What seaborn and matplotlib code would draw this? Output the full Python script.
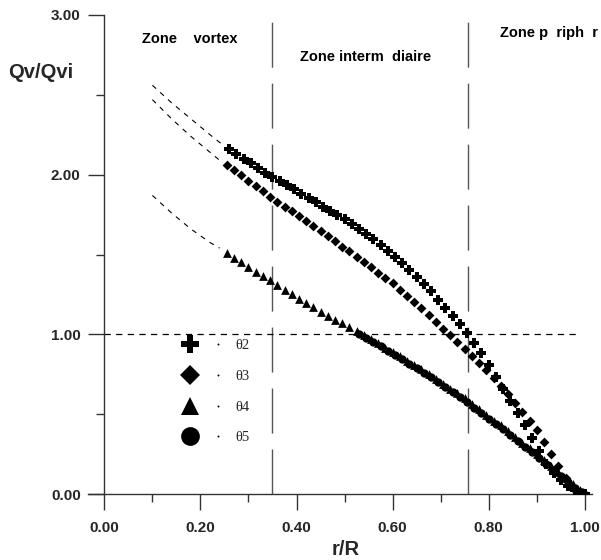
import matplotlib
matplotlib.use("Agg")
import matplotlib.pyplot as plt
from matplotlib.lines import Line2D
from matplotlib.legend_handler import HandlerTuple
from matplotlib.ticker import FixedLocator, FormatStrFormatter
import seaborn as sns
import pandas as pd

# ---------------- data ----------------
x_t2 = [0.26, 0.275, 0.29, 0.305, 0.32, 0.335, 0.35, 0.365, 0.38, 0.395, 0.41, 0.425,
        0.44, 0.455, 0.47, 0.485, 0.50, 0.515, 0.53, 0.545, 0.56, 0.575, 0.59, 0.605,
        0.62, 0.635, 0.65, 0.665, 0.68, 0.695, 0.71, 0.725, 0.74, 0.755, 0.77, 0.785,
        0.80, 0.815, 0.83, 0.845, 0.86, 0.875, 0.89, 0.905, 0.92, 0.935, 0.95, 0.965,
        0.98, 1.00]
y_t2 = [2.16, 2.13, 2.10, 2.07, 2.04, 2.01, 1.985, 1.96, 1.935, 1.91, 1.88, 1.855,
        1.83, 1.80, 1.775, 1.745, 1.72, 1.69, 1.66, 1.63, 1.60, 1.56, 1.525, 1.485,
        1.445, 1.40, 1.36, 1.315, 1.27, 1.215, 1.165, 1.115, 1.065, 1.01, 0.945, 0.88,
        0.81, 0.735, 0.66, 0.585, 0.51, 0.43, 0.35, 0.27, 0.19, 0.13, 0.085, 0.05,
        0.025, 0.0]

x_t3 = [0.255, 0.27, 0.285, 0.30, 0.315, 0.33, 0.345, 0.36, 0.375, 0.39, 0.405, 0.42,
        0.435, 0.45, 0.465, 0.48, 0.495, 0.51, 0.525, 0.54, 0.555, 0.57, 0.585, 0.60,
        0.615, 0.63, 0.645, 0.66, 0.675, 0.69, 0.705, 0.72, 0.735, 0.75, 0.765, 0.78,
        0.795, 0.81, 0.825, 0.84, 0.855, 0.87, 0.885, 0.90, 0.915, 0.93, 0.945, 0.96,
        0.975, 0.99, 1.00]
y_t3 = [2.06, 2.03, 1.995, 1.96, 1.93, 1.895, 1.86, 1.83, 1.80, 1.77, 1.74, 1.71,
        1.68, 1.65, 1.615, 1.585, 1.55, 1.52, 1.485, 1.45, 1.42, 1.385, 1.355, 1.32,
        1.28, 1.24, 1.205, 1.165, 1.12, 1.08, 1.035, 0.995, 0.95, 0.91, 0.865, 0.82,
        0.775, 0.725, 0.675, 0.625, 0.57, 0.515, 0.46, 0.40, 0.325, 0.25, 0.175, 0.10,
        0.04, 0.01, 0.0]

x_t4 = [0.255, 0.27, 0.285, 0.30, 0.315, 0.33, 0.345, 0.36, 0.375, 0.39, 0.405, 0.42,
        0.435, 0.45, 0.465, 0.48, 0.495, 0.51, 0.525, 0.54, 0.555, 0.57, 0.585, 0.60,
        0.615, 0.63, 0.645, 0.66, 0.675, 0.69, 0.705, 0.72, 0.735, 0.75, 0.765, 0.78,
        0.795, 0.81, 0.825, 0.84, 0.855, 0.87, 0.885, 0.90, 0.915, 0.93, 0.945, 0.96,
        0.975, 0.99, 1.00]
y_t4 = [1.51, 1.48, 1.45, 1.42, 1.39, 1.365, 1.34, 1.31, 1.28, 1.25, 1.22, 1.195,
        1.17, 1.14, 1.115, 1.09, 1.07, 1.045, 1.02, 0.995, 0.97, 0.945, 0.915, 0.89,
        0.865, 0.835, 0.81, 0.78, 0.75, 0.72, 0.69, 0.66, 0.63, 0.60, 0.565, 0.53,
        0.495, 0.46, 0.43, 0.395, 0.36, 0.32, 0.285, 0.25, 0.21, 0.175, 0.14, 0.10,
        0.065, 0.025, 0.0]

x_t5 = [0.53, 0.545, 0.56, 0.575, 0.59, 0.605, 0.62, 0.635, 0.65, 0.665, 0.68, 0.695,
        0.71, 0.725, 0.74, 0.755, 0.77, 0.785, 0.80, 0.815, 0.83, 0.845, 0.86, 0.875,
        0.89, 0.905, 0.92, 0.935, 0.95, 0.965, 0.98, 0.995]
y_t5 = [1.00, 0.975, 0.95, 0.925, 0.895, 0.87, 0.845, 0.815, 0.79, 0.76, 0.73, 0.70,
        0.67, 0.64, 0.61, 0.575, 0.54, 0.505, 0.47, 0.44, 0.405, 0.37, 0.335, 0.295,
        0.26, 0.225, 0.185, 0.15, 0.115, 0.075, 0.04, 0.01]

# extrapolated (dashed) parts toward the axis
ext2_x = [0.10, 0.14, 0.18, 0.22, 0.245]
ext2_y = [2.56, 2.45, 2.35, 2.25, 2.19]
ext3_x = [0.10, 0.14, 0.18, 0.22, 0.24]
ext3_y = [2.47, 2.35, 2.24, 2.14, 2.09]
ext4_x = [0.10, 0.14, 0.18, 0.22, 0.24]
ext4_y = [1.87, 1.76, 1.66, 1.575, 1.54]

zone_bounds = [0.35, 0.756]
ref_level = 1.0
ref_level_end = 0.988

zone_labels = ["Zone    vortex", "Zone interm  diaire", "Zone p  riph  r"]
zone_label_x = [0.078, 0.407, 0.823]
zone_label_y = [2.85, 2.736, 2.887]

series_labels = ["\u03b82", "\u03b83", "\u03b84", "\u03b85"]

x_major = [0.0, 0.2, 0.4, 0.6, 0.8, 1.0]
x_minor = [0.1, 0.3, 0.5, 0.7, 0.9]
y_major = [0.0, 1.0, 2.0, 3.0]
y_minor = [0.5, 1.5, 2.5]

# ---------------- style ----------------
sns.set_style("white")
plt.rcParams["font.family"] = ["Liberation Sans", "DejaVu Sans"]
plt.rcParams["font.weight"] = "bold"

fig = plt.figure(figsize=(6.01, 5.60), dpi=100)
ax = fig.add_axes([88 / 601, 66 / 560, 504 / 601, 479 / 560])

AX_COL = "#333333"

# series
df2 = pd.DataFrame({"x": x_t2, "y": y_t2})
df3 = pd.DataFrame({"x": x_t3, "y": y_t3})
df4 = pd.DataFrame({"x": x_t4, "y": y_t4})
df5 = pd.DataFrame({"x": x_t5, "y": y_t5})

sns.scatterplot(data=df4, x="x", y="y", marker="^", s=6.3 ** 2, color="black",
                linewidth=0, ax=ax, legend=False, zorder=3)
sns.scatterplot(data=df5, x="x", y="y", marker="o", s=6.0 ** 2, color="black",
                linewidth=0, ax=ax, legend=False, zorder=3)
sns.scatterplot(data=df3, x="x", y="y", marker="D", s=5.0 ** 2, color="black",
                linewidth=0, ax=ax, legend=False, zorder=3)
sns.scatterplot(data=df2, x="x", y="y", marker="P", s=7.2 ** 2, color="black",
                linewidth=0, ax=ax, legend=False, zorder=4)

for ex, ey in [(ext2_x, ext2_y), (ext3_x, ext3_y), (ext4_x, ext4_y)]:
    sns.lineplot(x=ex, y=ey, ax=ax, color="black", lw=0.8, dashes=False,
                 estimator=None, sort=False)
    ax.lines[-1].set_dashes((4.5, 5))

# zone boundaries
for xb in zone_bounds:
    ax.axvline(xb, color="#555555", lw=1.0, dashes=(32.4, 11.5), zorder=1)

# reference level
ax.hlines(ref_level, 0.0, ref_level_end, color="black", lw=0.9,
          linestyles=(0, (5, 4.3)), zorder=1)

# zone labels
for lab, lx, ly in zip(zone_labels, zone_label_x, zone_label_y):
    ax.text(lx, ly, lab, fontsize=10.5, fontweight="bold", ha="left", va="center",
            color="black", clip_on=False)

# axes limits and spines
ax.set_xlim(-0.034, 1.015)
ax.set_ylim(0.0, 3.0)
ax.spines["top"].set_visible(False)
ax.spines["right"].set_visible(False)
ax.spines["left"].set_position(("data", 0.0))
for sp in ["left", "bottom"]:
    ax.spines[sp].set_color(AX_COL)
    ax.spines[sp].set_linewidth(1.0)

ax.xaxis.set_major_locator(FixedLocator(x_major))
ax.xaxis.set_minor_locator(FixedLocator(x_minor))
ax.yaxis.set_major_locator(FixedLocator(y_major))
ax.yaxis.set_minor_locator(FixedLocator(y_minor))
ax.xaxis.set_major_formatter(FormatStrFormatter("%.2f"))
ax.yaxis.set_major_formatter(FormatStrFormatter("%.2f"))
ax.tick_params(which="major", direction="out", length=11.5, width=1.0, color=AX_COL,
               labelsize=11)
ax.tick_params(which="minor", direction="out", length=5.8, width=1.0, color=AX_COL)
ax.tick_params(axis="x", which="major", pad=8)
ax.tick_params(axis="y", which="major", pad=5.5)
ax.tick_params(left=True, bottom=True, which="both")
for t in ax.get_xticklabels() + ax.get_yticklabels():
    t.set_fontweight("bold")

ax.set_xlabel("r/R", fontsize=14.5, fontweight="bold")
ax.xaxis.set_label_coords(0.512, -0.115)
ax.xaxis.label.set_va("center")
ax.set_ylabel("Qv/Qvi", fontsize=14.5, fontweight="bold", rotation=0)
ax.yaxis.set_label_coords(-0.159, 0.881)
ax.yaxis.label.set_ha("left")
ax.yaxis.label.set_va("center")

# legend
big = [
    Line2D([0], [0], marker="P", ms=13, color="black", ls="none", mew=0),
    Line2D([0], [0], marker="D", ms=10, color="black", ls="none", mew=0),
    Line2D([0], [0], marker="^", ms=12.5, color="black", ls="none", mew=0),
    Line2D([0], [0], marker="o", ms=13.5, color="black", ls="none", mew=0),
]
dot = Line2D([0], [0], marker="o", ms=1.4, color="black", ls="none", mew=0)
handles = [(b, dot) for b in big]
leg = ax.legend(handles, series_labels,
                handler_map={tuple: HandlerTuple(ndivide=None, pad=0)},
                loc="upper left", bbox_to_anchor=(176 / 601, 1 - 339 / 560),
                bbox_transform=fig.transFigure, frameon=False, borderpad=0,
                borderaxespad=0, handlelength=3.85, handletextpad=0.22,
                labelspacing=1.2,
                prop={"family": ["Liberation Serif", "DejaVu Serif"], "size": 10.5,
                      "weight": "normal"})

fig.savefig("out.png", dpi=100)
